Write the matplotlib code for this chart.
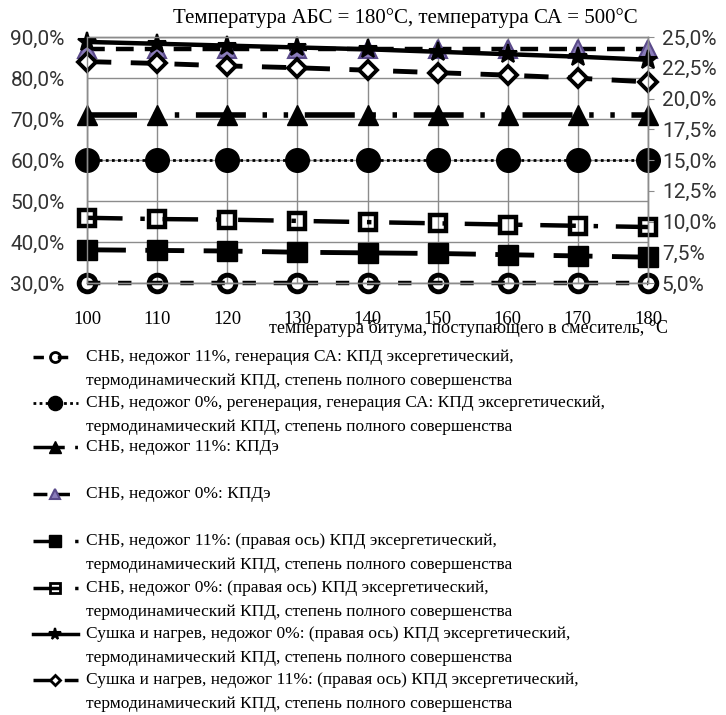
import matplotlib
matplotlib.use('Agg')
import matplotlib.pyplot as plt
from matplotlib.lines import Line2D
from matplotlib.ticker import FuncFormatter, MultipleLocator

temps = [100, 110, 120, 130, 140, 150, 160, 170, 180]

# left axis, %
snb11_gen = [30.0, 30.0, 30.0, 30.0, 30.0, 30.0, 30.0, 30.0, 30.0]
snb0_regen = [60.0, 60.0, 60.0, 60.0, 60.0, 60.0, 60.0, 60.0, 60.0]
snb11_kpde = [71.0, 71.0, 71.0, 71.0, 71.0, 71.0, 71.0, 71.0, 71.0]
snb0_kpde = [87.0, 87.0, 87.0, 87.0, 87.0, 87.0, 87.0, 87.0, 87.0]

# right axis, %
snb11_right = [7.7, 7.65, 7.6, 7.5, 7.45, 7.4, 7.3, 7.2, 7.1]
snb0_right = [10.3, 10.2, 10.15, 10.05, 9.95, 9.85, 9.75, 9.65, 9.55]
dry0_right = [24.6, 24.45, 24.3, 24.15, 24.0, 23.8, 23.6, 23.4, 23.15]
dry11_right = [23.0, 22.85, 22.65, 22.5, 22.3, 22.1, 21.9, 21.65, 21.35]

title = "Температура АБС = 180°С, температура СА = 500°С"
xlabel = "температура битума, поступающего в смеситель, °С"
labels = [
    "СНБ, недожог 11%, генерация СА: КПД эксергетический,\nтермодинамический КПД, степень полного совершенства",
    "СНБ, недожог 0%, регенерация, генерация СА: КПД эксергетический,\nтермодинамический КПД, степень полного совершенства",
    "СНБ, недожог 11%: КПДэ",
    "СНБ, недожог 0%: КПДэ",
    "СНБ, недожог 11%: (правая ось) КПД эксергетический,\nтермодинамический КПД, степень полного совершенства",
    "СНБ, недожог 0%: (правая ось) КПД эксергетический,\nтермодинамический КПД, степень полного совершенства",
    "Сушка и нагрев, недожог 0%: (правая ось) КПД эксергетический,\nтермодинамический КПД, степень полного совершенства",
    "Сушка и нагрев, недожог 11%: (правая ось) КПД эксергетический,\nтермодинамический КПД, степень полного совершенства",
]

SERIF = 'Liberation Serif'
SANS = ['Roboto', 'DejaVu Sans']
GRID = '#8c8c8c'
PURPLE = '#8a7cba'

# (axis, data, line kwargs, marker kwargs)
styles = [
    ('l', snb11_gen, dict(lw=3.2, dashes=(3, 4)),
     dict(marker='o', ms=12, mfc='none', mec='black', mew=3.5)),
    ('l', snb0_regen, dict(lw=2.0, dashes=(1, 1.2)),
     dict(marker='o', ms=17, mfc='black', mec='black', mew=1)),
    ('l', snb11_kpde, dict(lw=4, dashes=(9, 3, 0.8, 3, 0.8, 3)),
     dict(marker='^', ms=15, mfc='black', mec='black', mew=1)),
    ('l', snb0_kpde, dict(lw=3.2, dashes=(4, 2.5)),
     dict(marker='^', ms=13, mfc=PURPLE, mec='#5a4a8a', mew=1.5)),
    ('r', snb11_right, dict(lw=3.5, dashes=(8, 4)),
     dict(marker='s', ms=14, mfc='black', mec='black', mew=1)),
    ('r', snb0_right, dict(lw=3.2, dashes=(8, 4, 1, 4)),
     dict(marker='s', ms=11, mfc='none', mec='black', mew=3.2)),
    ('r', dry0_right, dict(lw=3.2),
     dict(marker='*', ms=14, mfc='black', mec='black', mew=1.5)),
    ('r', dry11_right, dict(lw=3.5, dashes=(5, 4)),
     dict(marker='D', ms=9, mfc='white', mec='black', mew=2.8)),
]

W, H = 726, 715
fig = plt.figure(figsize=(W / 100, H / 100), dpi=100)
ax = fig.add_axes([87 / W, 1 - 283 / H, (648 - 87) / W, 246 / H])
ax2 = ax.twinx()

for side, vals, lkw, mkw in styles:
    a = ax if side == 'l' else ax2
    a.plot(temps, vals, color='black', clip_on=False, **lkw, **mkw)

ax.set_xlim(100, 180)
ax.set_ylim(30, 90)
ax2.set_ylim(5, 25)
ax.set_xticks(temps)
ax.yaxis.set_major_locator(MultipleLocator(10))
ax2.yaxis.set_major_locator(MultipleLocator(2.5))
pct = FuncFormatter(lambda v, p: f"{v:.1f}%".replace('.', ','))
ax.yaxis.set_major_formatter(pct)
ax2.yaxis.set_major_formatter(pct)

ax.set_axisbelow(True)
ax.grid(True, color=GRID, lw=1.0)
for a in (ax, ax2):
    for s in a.spines.values():
        s.set_color(GRID)
        s.set_linewidth(1.0)

ax.tick_params(axis='y', length=0, pad=16, labelsize=15)
ax.tick_params(axis='x', length=0, pad=20, labelsize=13.5)
ax2.tick_params(axis='y', length=4, color=GRID, pad=6, labelsize=15)
for t in ax.get_yticklabels() + ax2.get_yticklabels():
    t.set_family(SANS)
    t.set_color('#333333')
for t in ax.get_xticklabels():
    t.set_family(SERIF)

ax.set_xlabel(xlabel, family=SERIF, fontsize=13, ha='right', va='center')
ax.xaxis.set_label_coords((668 - 87) / (648 - 87), -(328 - 283) / 246)

fig.text(405 / W, 1 - 18 / H, title, ha='center', va='center',
         family=SERIF, fontsize=15)

# legend drawn by hand: key sits on the first text line
leg_y = [357, 403, 447, 494, 541, 588, 634, 680]
for (side, vals, lkw, mkw), lab, y in zip(styles, labels, leg_y):
    fy = 1 - y / H
    key_kw = dict(color='black', lw=min(lkw['lw'], 2.5))
    if 'dashes' in lkw:
        key_kw['dashes'] = lkw['dashes']
    fig.add_artist(Line2D([33 / W, 78 / W], [fy, fy],
                          transform=fig.transFigure, **key_kw))
    mk = dict(mkw)
    mk['ms'] = mkw['ms'] * 0.6
    mk['mew'] = min(mkw['mew'], 2)
    fig.add_artist(Line2D([55 / W], [fy], lw=0, transform=fig.transFigure, **mk))
    for j, line in enumerate(lab.split('\n')):
        fig.text(86 / W, 1 - (y + 24 * j) / H, line, ha='left', va='center',
                 family=SERIF, fontsize=12.5)

fig.savefig('out.png', dpi=100)
